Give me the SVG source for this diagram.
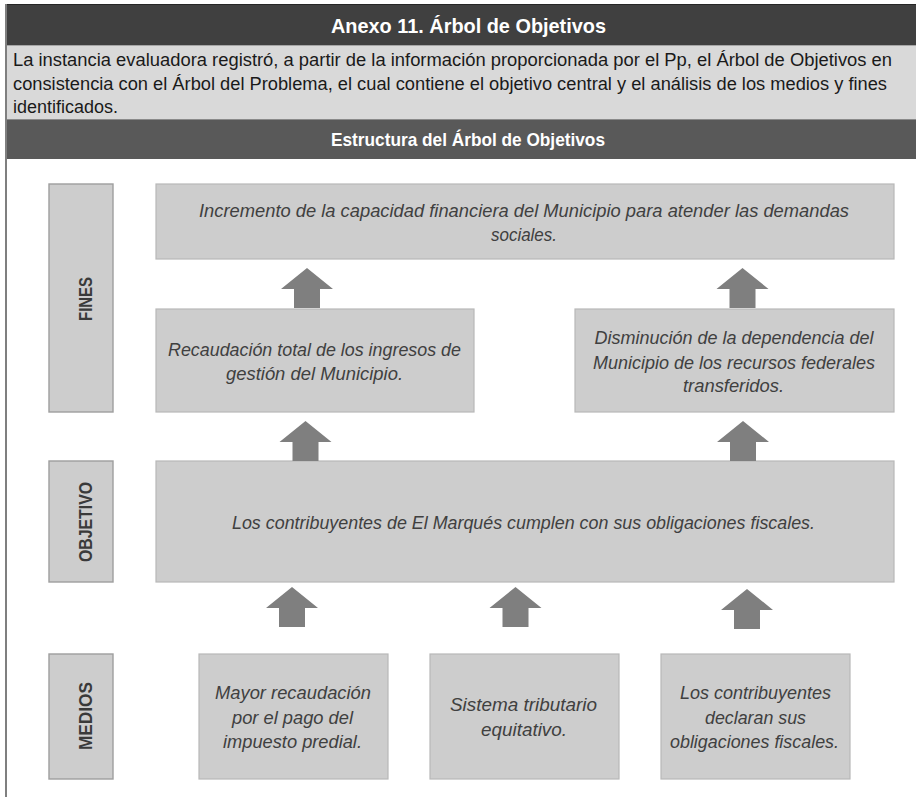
<svg xmlns="http://www.w3.org/2000/svg" xmlns:xlink="http://www.w3.org/1999/xlink" width="916" height="797" viewBox="0 0 916 797">
<defs>
<style>
.hdr{fill:#ffffff;font-family:"Liberation Sans",Arial,sans-serif;font-weight:bold;text-anchor:middle}
.desc{fill:#1a1a1a;font-family:"Liberation Sans",Arial,sans-serif;font-size:17.5px}
.box{fill:#cdcdcd;stroke:#b8b8b8;stroke-width:1.2}
.lbl{fill:#cdcdcd;stroke:#9e9e9e;stroke-width:1.4}
.lbltxt{fill:#3a3a3a;font-family:"Liberation Sans",Arial,sans-serif;font-weight:bold;font-size:18.5px;text-anchor:middle}
.t{fill:#404040;font-family:"Liberation Sans",Arial,sans-serif;font-style:italic;font-size:17.5px;text-anchor:middle}
.arr{fill:#7f7f7f}
</style>
<path id="arrow" d="M0,0 L26,21 L13,21 L13,40 L-13,40 L-13,21 L-26,21 Z"/>
</defs>
<rect x="0" y="0" width="916" height="797" fill="#ffffff"/>
<!-- header -->
<g id="header">
<rect x="6" y="4" width="910" height="41" fill="#404040"/>
<line x1="6" y1="4.5" x2="916" y2="4.5" stroke="#262626" stroke-width="1"/>
<text class="hdr" x="468.5" y="33" font-size="20.5" textLength="275" lengthAdjust="spacingAndGlyphs">Anexo 11. Árbol de Objetivos</text>
<rect x="6" y="45" width="910" height="74" fill="#d9d9d9"/>
<line x1="6" y1="45.5" x2="916" y2="45.5" stroke="#a6a6a6" stroke-width="1"/>
<text class="desc" x="13" y="66" textLength="879" lengthAdjust="spacingAndGlyphs">La instancia evaluadora registró, a partir de la información proporcionada por el Pp, el Árbol de Objetivos en</text>
<text class="desc" x="13" y="90" textLength="874" lengthAdjust="spacingAndGlyphs">consistencia con el Árbol del Problema, el cual contiene el objetivo central y el análisis de los medios y fines</text>
<text class="desc" x="13" y="113" textLength="105" lengthAdjust="spacingAndGlyphs">identificados.</text>
<rect x="6" y="119" width="910" height="40" fill="#595959"/>
<line x1="6" y1="119.5" x2="916" y2="119.5" stroke="#8a8a8a" stroke-width="1"/>
<text class="hdr" x="468" y="146" font-size="18.5" textLength="274" lengthAdjust="spacingAndGlyphs">Estructura del Árbol de Objetivos</text>
<line x1="6" y1="4" x2="6" y2="797" stroke="#7f7f7f" stroke-width="2"/>
</g>
<!-- side labels -->
<g id="label-fines">
<rect class="lbl" x="49" y="184" width="64" height="228"/>
<text class="lbltxt" transform="translate(92,299) rotate(-90)" textLength="44" lengthAdjust="spacingAndGlyphs">FINES</text>
</g>
<g id="label-objetivo">
<rect class="lbl" x="49" y="461" width="64" height="121"/>
<text class="lbltxt" transform="translate(92,522) rotate(-90)" textLength="80" lengthAdjust="spacingAndGlyphs">OBJETIVO</text>
</g>
<g id="label-medios">
<rect class="lbl" x="49" y="654" width="64" height="125"/>
<text class="lbltxt" transform="translate(92,716) rotate(-90)" textLength="68" lengthAdjust="spacingAndGlyphs">MEDIOS</text>
</g>
<!-- nodes -->
<g id="fin-superior">
<rect class="box" x="156" y="184" width="738" height="75"/>
<text class="t" x="524" y="217" textLength="650" lengthAdjust="spacingAndGlyphs">Incremento de la capacidad financiera del Municipio para atender las demandas</text>
<text class="t" x="524" y="241" textLength="66" lengthAdjust="spacingAndGlyphs">sociales.</text>
</g>
<g id="fin-recaudacion">
<rect class="box" x="156" y="309" width="318" height="103"/>
<text class="t" x="314.5" y="356" textLength="293" lengthAdjust="spacingAndGlyphs">Recaudación total de los ingresos de</text>
<text class="t" x="314.5" y="380" textLength="177" lengthAdjust="spacingAndGlyphs">gestión del Municipio.</text>
</g>
<g id="fin-dependencia">
<rect class="box" x="575" y="309" width="319" height="103"/>
<text class="t" x="734" y="344" textLength="279" lengthAdjust="spacingAndGlyphs">Disminución de la dependencia del</text>
<text class="t" x="734" y="369" textLength="282" lengthAdjust="spacingAndGlyphs">Municipio de los recursos federales</text>
<text class="t" x="733.5" y="392" textLength="101" lengthAdjust="spacingAndGlyphs">transferidos.</text>
</g>
<g id="objetivo">
<rect class="box" x="156" y="461" width="738" height="121"/>
<text class="t" x="523.5" y="529" textLength="583" lengthAdjust="spacingAndGlyphs">Los contribuyentes de El Marqués cumplen con sus obligaciones fiscales.</text>
</g>
<g id="medio-predial">
<rect class="box" x="199" y="654" width="189" height="125"/>
<text class="t" x="293" y="699" textLength="156" lengthAdjust="spacingAndGlyphs">Mayor recaudación</text>
<text class="t" x="292.5" y="724" textLength="121" lengthAdjust="spacingAndGlyphs">por el pago del</text>
<text class="t" x="292.5" y="748" textLength="139" lengthAdjust="spacingAndGlyphs">impuesto predial.</text>
</g>
<g id="medio-sistema">
<rect class="box" x="430" y="654" width="189" height="125"/>
<text class="t" x="523.5" y="711" textLength="147" lengthAdjust="spacingAndGlyphs">Sistema tributario</text>
<text class="t" x="524" y="736" textLength="86" lengthAdjust="spacingAndGlyphs">equitativo.</text>
</g>
<g id="medio-declaran">
<rect class="box" x="661" y="654" width="189" height="125"/>
<text class="t" x="755.5" y="699" textLength="151" lengthAdjust="spacingAndGlyphs">Los contribuyentes</text>
<text class="t" x="755.5" y="724" textLength="101" lengthAdjust="spacingAndGlyphs">declaran sus</text>
<text class="t" x="754.5" y="748" textLength="169" lengthAdjust="spacingAndGlyphs">obligaciones fiscales.</text>
</g>
<!-- connectors -->
<g id="connectors" class="arr">
<use xlink:href="#arrow" href="#arrow" x="307" y="268"/>
<use xlink:href="#arrow" href="#arrow" x="305.5" y="421"/>
<use xlink:href="#arrow" href="#arrow" x="742.5" y="268"/>
<use xlink:href="#arrow" href="#arrow" x="743" y="421"/>
<use xlink:href="#arrow" href="#arrow" x="292" y="587"/>
<use xlink:href="#arrow" href="#arrow" x="515.5" y="587"/>
<use xlink:href="#arrow" href="#arrow" x="747" y="589"/>
</g>
</svg>
